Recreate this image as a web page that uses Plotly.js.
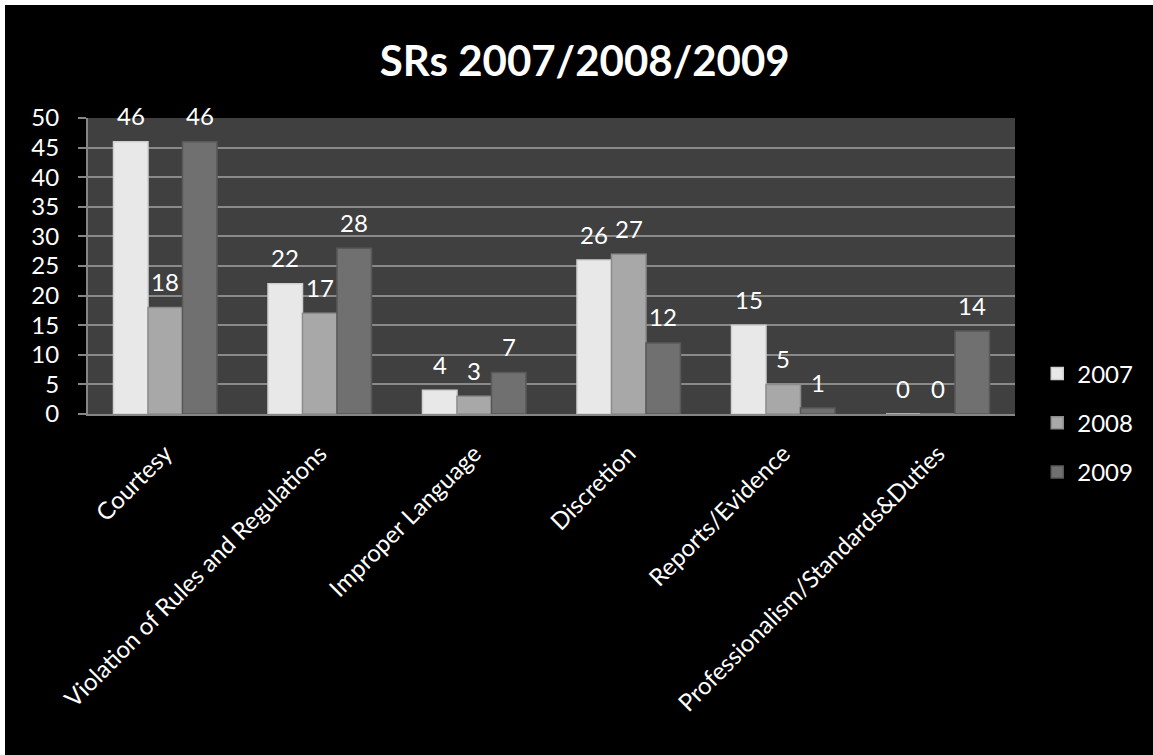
<!DOCTYPE html>
<html>
<head>
<meta charset="utf-8">
<script src="https://cdn.plot.ly/plotly-3.0.1.min.js"></script>
<style>
  html, body { margin: 0; padding: 0; background: #ffffff; }
  #chart { position: absolute; left: 5px; top: 5px; width: 1148px; height: 750px; }
</style>
</head>
<body>
<div id="chart"></div>
<script>
const categories = ["Courtesy", "Violation of Rules and Regulations", "Improper Language", "Discretion", "Reports/Evidence", "Professionalism/Standards&Duties"];
const series2007 = [46, 22, 4, 26, 15, 0];
const series2008 = [18, 17, 3, 27, 5, 0];
const series2009 = [46, 28, 7, 12, 1, 14];
const seriesNames = ["2007", "2008", "2009"];
const seriesColors = ["#e8e8e8", "#a8a8a8", "#707070"];
const lineColors = ["#cfcfcf", "#8c8c8c", "#585858"];

const FONT = "Lato, 'Open Sans', sans-serif";
const allSeries = [series2007, series2008, series2009];

const BARGAP = 0.33;
const PLOT_W = 1148 - 83 - 138;
const barW = PLOT_W / categories.length * (1 - BARGAP) / allSeries.length;

const traces = allSeries.map((vals, i) => ({
  type: "bar",
  name: seriesNames[i],
  legendgroup: "g" + i,
  x: categories,
  y: vals,
  marker: { color: seriesColors[i], line: { color: lineColors[i], width: 1.5 } },
  hoverinfo: "x+y+name"
}));

// value labels derived from the data arrays
const annotations = [];
allSeries.forEach((vals, i) => {
  vals.forEach((v, j) => {
    annotations.push({
      x: categories[j], y: v, xref: "x", yref: "y",
      text: String(v), showarrow: false,
      xshift: (i - 1) * barW, yshift: 26,
      yanchor: "middle", xanchor: "center",
      font: { family: FONT, size: 24, color: "#ffffff" }
    });
  });
});

const layout = {
  width: 1148,
  height: 750,
  paper_bgcolor: "#000000",
  plot_bgcolor: "#404040",
  margin: { l: 83, r: 138, t: 113, b: 341, autoexpand: false },
  title: {
    text: "<b>SRs 2007/2008/2009</b>",
    font: { family: FONT, size: 42, color: "#ffffff" },
    x: 0.505, xanchor: "center",
    y: 0.925, yanchor: "middle"
  },
  barmode: "group",
  bargap: BARGAP,
  bargroupgap: 0,
  showlegend: true,
  legend: {
    x: 1.024, xanchor: "left",
    y: -0.03, yanchor: "middle",
    font: { family: FONT, size: 24, color: "#ffffff" },
    bgcolor: "rgba(0,0,0,0)",
    tracegroupgap: 15,
    traceorder: "grouped"
  },
  annotations: annotations,
  xaxis: {
    type: "category",
    tickangle: -45,
    tickfont: { family: FONT, size: 24, color: "#ffffff" },
    showline: true,
    linecolor: "#868686",
    linewidth: 2,
    showgrid: false,
    ticks: "",
    ticklabelstandoff: 14,
    automargin: false,
    fixedrange: true
  },
  yaxis: {
    range: [0, 50],
    dtick: 5,
    tick0: 0,
    tickfont: { family: FONT, size: 24, color: "#ffffff" },
    showline: true,
    linecolor: "#868686",
    linewidth: 2,
    showgrid: true,
    gridcolor: "#8a8a8a",
    gridwidth: 2,
    ticks: "outside",
    ticklen: 8,
    tickwidth: 2,
    tickcolor: "#868686",
    ticklabelstandoff: 14,
    automargin: false,
    zeroline: false,
    fixedrange: true
  }
};

Plotly.newPlot("chart", traces, layout, { displayModeBar: false });
</script>
</body>
</html>
